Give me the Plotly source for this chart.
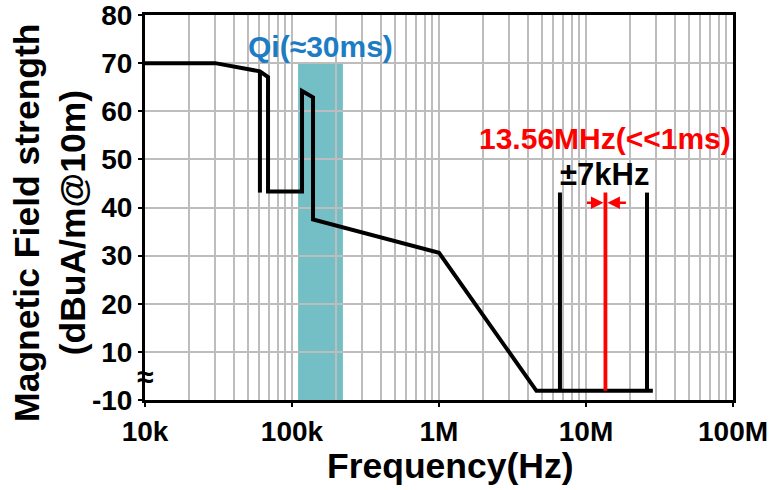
import plotly.graph_objects as go
import numpy as np

# ---- data (y values on the broken axis: position 0 is labelled -10) ----
main_freq = [10e3, 30e3, 60.5e3, 68.7e3, 68.7e3, 117e3, 117e3, 139e3, 139e3, 1e6, 4.6e6, 28.5e6]
main_level = [70, 70, 68.3, 67.1, 43.3, 43.3, 64.2, 62.9, 37.5, 30.6, 1.9, 1.9]

stub_freq = [60.5e3, 60.5e3]
stub_level = [68.3, 43.1]

left_edge_freq = [6.65e6, 6.65e6]
right_edge_freq = [26e6, 26e6]
edge_level = [1.9, 43.1]

carrier_freq = [13.56e6, 13.56e6]
carrier_level = [1.9, 43.1]

qi_band_freq = [110e3, 222e3]
qi_band_level = [0, 70]

y_tickvals = [0, 10, 20, 30, 40, 50, 60, 70, 80]
y_ticktext = ["-10", "10", "20", "30", "40", "50", "60", "70", "80"]
x_tickvals = [1e4, 1e5, 1e6, 1e7, 1e8]
x_ticktext = ["10k", "100k", "1M", "10M", "100M"]

FONT = "Liberation Sans, Arial, sans-serif"
BLACK = "#000000"
RED = "#FF0000"

fig = go.Figure()

# Qi band drawn beneath the grid
fig.add_shape(type="rect", xref="x", yref="y",
              x0=qi_band_freq[0], x1=qi_band_freq[1],
              y0=qi_band_level[0], y1=qi_band_level[1],
              fillcolor="#74BFC5", line=dict(width=0), layer="below")

for xs, ys in [(main_freq, main_level), (stub_freq, stub_level),
               (left_edge_freq, edge_level), (right_edge_freq, edge_level)]:
    fig.add_trace(go.Scatter(x=xs, y=ys, mode="lines",
                             line=dict(color=BLACK, width=4), showlegend=False))

fig.add_trace(go.Scatter(x=carrier_freq, y=carrier_level, mode="lines",
                         line=dict(color=RED, width=3.8), showlegend=False))

grid = "#BDBDBD"
fig.update_xaxes(type="log", range=[4, 8], tickvals=x_tickvals, ticktext=x_ticktext,
                 showgrid=True, gridcolor=grid, gridwidth=1.6,
                 minor=dict(dtick="D1", showgrid=True, gridcolor=grid, gridwidth=1.6, ticks=""),
                 showline=True, linecolor=BLACK, linewidth=3, mirror=True,
                 ticks="outside", ticklen=4, tickwidth=2, tickcolor=BLACK,
                 tickfont=dict(family=FONT, size=28, color=BLACK, weight="bold"),
                 zeroline=False, automargin=False, ticklabeloverflow="allow")
fig.update_yaxes(range=[0, 80], tickvals=y_tickvals, ticktext=y_ticktext,
                 showgrid=True, gridcolor=grid, gridwidth=1.6,
                 showline=True, linecolor=BLACK, linewidth=3, mirror=True,
                 ticks="outside", ticklen=4, tickwidth=2, tickcolor=BLACK,
                 tickfont=dict(family=FONT, size=28, color=BLACK, weight="bold"),
                 zeroline=False, automargin=False, ticklabeloverflow="allow")

ann = []
ann.append(dict(text="Frequency(Hz)", xref="paper", yref="paper", x=0.519, y=-0.171,
                xanchor="center", yanchor="middle", showarrow=False,
                font=dict(family=FONT, size=35.5, color=BLACK, weight="bold")))
ann.append(dict(text="Magnetic Field strength<br>(dBuA/m@10m)", xref="paper", yref="paper",
                x=-0.1616, y=0.46, xanchor="center", yanchor="middle", showarrow=False,
                textangle=-90,
                font=dict(family=FONT, size=35.5, color=BLACK, weight="bold")))
ann.append(dict(text="Qi(≈30ms)", xref="paper", yref="paper", x=0.299, y=0.919,
                xanchor="center", yanchor="middle", showarrow=False,
                font=dict(family=FONT, size=30, color="#1C7CC4", weight="bold")))
ann.append(dict(text="13.56MHz(<<1ms)", xref="paper", yref="paper", x=0.782, y=0.678,
                xanchor="center", yanchor="middle", showarrow=False,
                font=dict(family=FONT, size=30, color=RED, weight="bold")))
ann.append(dict(text="±7kHz", xref="paper", yref="paper", x=0.781, y=0.587,
                xanchor="center", yanchor="middle", showarrow=False,
                font=dict(family=FONT, size=31, color=BLACK, weight="bold")))
ann.append(dict(text="≈", xref="paper", yref="paper", x=0.0, y=0.06,
                xanchor="center", yanchor="middle", showarrow=False,
                font=dict(family=FONT, size=30, color=BLACK, weight="bold")))
# red arrows pointing at the carrier
tip_x = np.log10(carrier_freq[0])
for dx in (-20, 22):
    ann.append(dict(text="", x=tip_x, y=41, xref="x", yref="y", ax=dx, ay=0,
                    showarrow=True, arrowhead=2, arrowsize=1, arrowwidth=2.5,
                    arrowcolor=RED, standoff=2))

fig.update_layout(width=781, height=490, margin=dict(l=145, r=48, t=15, b=90),
                  plot_bgcolor="white", paper_bgcolor="white",
                  annotations=ann, showlegend=False)

fig.write_html("out.html", config={"displayModeBar": False},
               post_script="document.body.style.margin='0';")
